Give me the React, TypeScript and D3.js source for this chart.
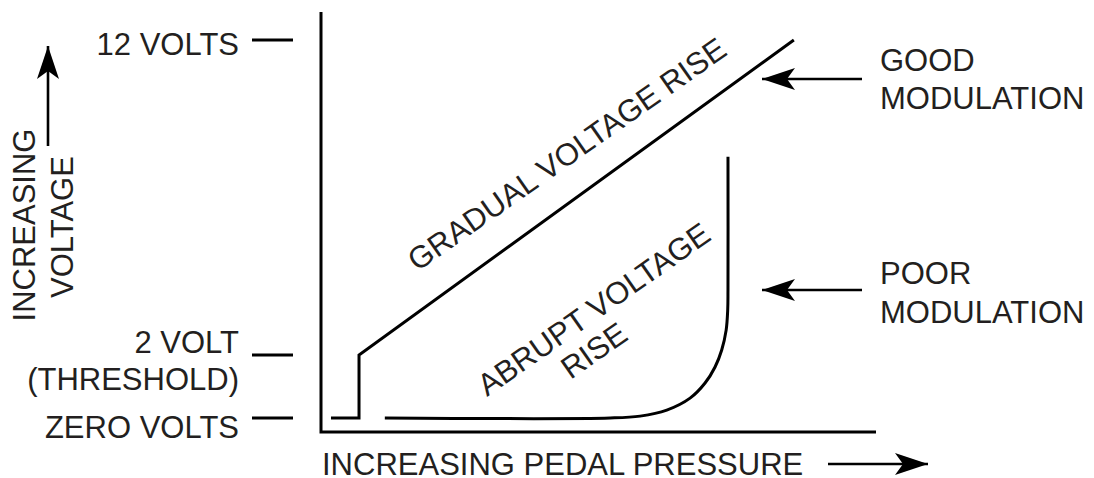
import React from 'react';
import * as d3 from 'd3';

// pressure is in % of full pedal travel, voltage in volts
const gradualRise: [number, number][] = [
  [1.8, 0],
  [6.85, 0],
  [6.85, 2],
  [85.2, 12],
];

const abruptRise: [number, number][] = [
  [11.5, 0],
  [52.1, 0],
  [57.5, 0.06],
  [62.3, 0.25],
  [66.5, 0.63],
  [69.2, 1.11],
  [71.0, 1.62],
  [72.2, 2.16],
  [73.0, 2.79],
  [73.28, 3.43],
  [73.33, 4.06],
  [73.33, 8.29],
];

const voltTicks = [12, 2, 0];
const voltTickLabels = [['12 VOLTS'], ['2 VOLT', '(THRESHOLD)'], ['ZERO VOLTS']];

const W = 1094;
const H = 478;
const FONT = 'Liberation Sans, Arial, Helvetica, sans-serif';
const TEXT = '#231f20';

// barbed arrow head, tip at (0,0) pointing to +x
const headPath = 'M0,0 Q-18,-6 -33,-11 L-25,0 L-33,11 Q-18,6 0,0 Z';

const Arrow = ({ x1, y1, x2, y2 }: { x1: number; y1: number; x2: number; y2: number }) => {
  const angle = (Math.atan2(y2 - y1, x2 - x1) * 180) / Math.PI;
  return (
    <g>
      <line x1={x1} y1={y1} x2={x2} y2={y2} stroke="#000" strokeWidth={2.6} />
      <path d={headPath} transform={`translate(${x2},${y2}) rotate(${angle})`} fill="#000" />
    </g>
  );
};

export default function App() {
  const x = d3.scaleLinear().domain([0, 100]).range([321, 876]);
  const y = d3.scaleLinear().domain([0, 12]).range([418, 40]);

  const line = d3
    .line<[number, number]>()
    .x((d) => x(d[0]))
    .y((d) => y(d[1]));

  const smooth = d3
    .line<[number, number]>()
    .x((d) => x(d[0]))
    .y((d) => y(d[1]))
    .curve(d3.curveCatmullRom.alpha(0.5));

  const frameTop = 12;
  const frameBottom = 432;

  // label offsets relative to their tick
  const labelDy = [[15], [-2, 35], [20]];

  return (
    <svg
      width={W}
      height={H}
      style={{ position: 'absolute', left: 0, top: 0, background: '#fff' }}
      fontFamily={FONT}
      fontSize={31}
    >
      <rect width={W} height={H} fill="#fff" />

      {/* frame */}
      <path
        d={`M${x(0)},${frameTop} L${x(0)},${frameBottom} L${x(100)},${frameBottom}`}
        fill="none"
        stroke="#000"
        strokeWidth={3}
      />

      {/* voltage ticks */}
      {voltTicks.map((v, i) => (
        <g key={v}>
          <line x1={252} x2={293} y1={y(v)} y2={y(v)} stroke="#000" strokeWidth={2.8} />
          {voltTickLabels[i].map((t, j) => (
            <text key={t} x={239} y={y(v) + labelDy[i][j]} textAnchor="end" fill={TEXT}>
              {t}
            </text>
          ))}
        </g>
      ))}

      {/* curves */}
      <path d={line(gradualRise) || ''} fill="none" stroke="#000" strokeWidth={3} />
      <path d={smooth(abruptRise) || ''} fill="none" stroke="#000" strokeWidth={3} />

      {/* curve labels */}
      <text transform="translate(573,163) rotate(-35)" textAnchor="middle" fill={TEXT}>
        GRADUAL VOLTAGE RISE
      </text>
      <text transform="translate(487,397) rotate(-35)" fill={TEXT}>
        ABRUPT VOLTAGE
        <tspan x={78} y={34}>RISE</tspan>
      </text>

      {/* right annotations */}
      <Arrow x1={862} y1={79} x2={762} y2={79} />
      <text x={880} y={71} fill={TEXT}>GOOD</text>
      <text x={880} y={109} fill={TEXT}>MODULATION</text>

      <Arrow x1={862} y1={290} x2={762} y2={290} />
      <text x={880} y={284} fill={TEXT}>POOR</text>
      <text x={880} y={323} fill={TEXT}>MODULATION</text>

      {/* axis titles */}
      <text x={322} y={475} fill={TEXT}>INCREASING PEDAL PRESSURE</text>
      <Arrow x1={828} y1={464} x2={928} y2={464} />

      <text transform="translate(35,225) rotate(-90)" textAnchor="middle" fill={TEXT}>
        INCREASING
      </text>
      <text transform="translate(73,227) rotate(-90)" textAnchor="middle" fill={TEXT}>
        VOLTAGE
      </text>
      <Arrow x1={48} y1={146} x2={48} y2={46} />
    </svg>
  );
}
